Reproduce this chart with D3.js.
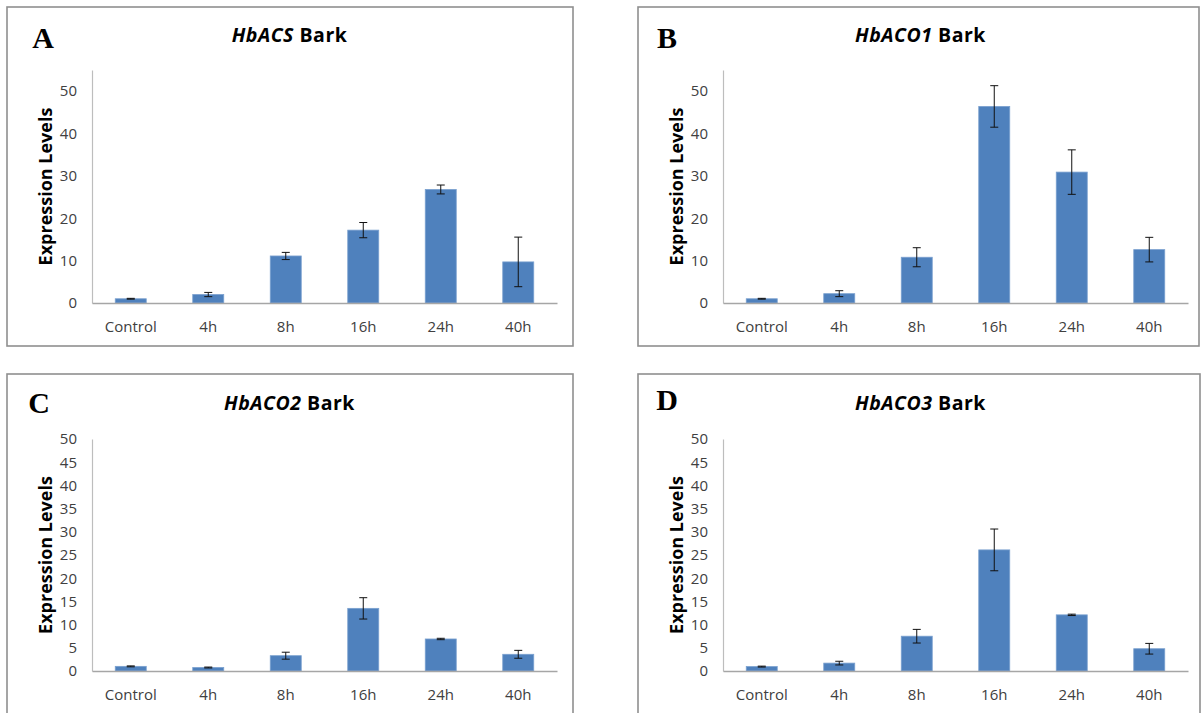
<!DOCTYPE html>
<html>
<head>
<meta charset="utf-8">
<script src="https://cdn.jsdelivr.net/npm/d3@7"></script>
<style>
  html, body { margin: 0; padding: 0; background: #fff; }
  svg { display: block; }
</style>
</head>
<body>
<svg id="chart" width="1202" height="713"></svg>
<script>
// ---- data ----
const categories = ["Control", "4h", "8h", "16h", "24h", "40h"];
const acsValues  = [1.0, 2.0, 11.1, 17.2, 26.8, 9.7];
const acsErrors  = [0.1, 0.5, 0.85, 1.8, 1.05, 5.85];
const aco1Values = [1.0, 2.2, 10.8, 46.4, 30.9, 12.6];
const aco1Errors = [0.1, 0.7, 2.25, 4.9, 5.25, 2.9];
const aco2Values = [1.0, 0.75, 3.3, 13.5, 6.9, 3.6];
const aco2Errors = [0.1, 0.1, 0.75, 2.3, 0.15, 0.85];
const aco3Values = [0.95, 1.7, 7.5, 26.1, 12.1, 4.8];
const aco3Errors = [0.1, 0.4, 1.47, 4.5, 0.15, 1.15];
const ticksTen  = [0, 10, 20, 30, 40, 50];
const ticksFive = [0, 5, 10, 15, 20, 25, 30, 35, 40, 45, 50];
const panelLetters = ["A", "B", "C", "D"];
const geneNames = ["HbACS", "HbACO1", "HbACO2", "HbACO3"];
const tissue = "Bark";
const yLabel = "Expression Levels";

// ---- layout ----
const panels = [
  { letter: panelLetters[0], gene: geneNames[0], values: acsValues,  errors: acsErrors,  ticks: ticksTen,  max: 55,
    box: [7, 7, 566, 339],   plot: { x0: 92,  x1: 557,  yTop: 70,  yBase: 303 }, lx: 43,  ly: 48,  ty: 42 },
  { letter: panelLetters[1], gene: geneNames[1], values: aco1Values, errors: aco1Errors, ticks: ticksTen,  max: 55,
    box: [638, 7, 561, 339], plot: { x0: 723, x1: 1188, yTop: 70,  yBase: 303 }, lx: 667, ly: 48,  ty: 42 },
  { letter: panelLetters[2], gene: geneNames[2], values: aco2Values, errors: aco2Errors, ticks: ticksFive, max: 50,
    box: [7, 374, 566, 345],   plot: { x0: 92,  x1: 557,  yTop: 439, yBase: 671 }, lx: 39,  ly: 413, ty: 410 },
  { letter: panelLetters[3], gene: geneNames[3], values: aco3Values, errors: aco3Errors, ticks: ticksFive, max: 50,
    box: [638, 374, 562, 345], plot: { x0: 723, x1: 1188, yTop: 439, yBase: 671 }, lx: 667, ly: 410, ty: 410 }
];

const svg = d3.select("#chart");
const FONT = "'Open Sans', 'DejaVu Sans', sans-serif";

panels.forEach(p => {
  const g = svg.append("g");
  const [bx, by, bw, bh] = p.box;
  g.append("rect").attr("x", bx).attr("y", by).attr("width", bw).attr("height", bh)
    .attr("fill", "#fff").attr("stroke", "#8f8f8f").attr("stroke-width", 1.6);

  const x = d3.scaleBand().domain(categories).range([p.plot.x0, p.plot.x1])
    .paddingInner(0.6).paddingOuter(0.3);
  const y = d3.scaleLinear().domain([0, p.max]).range([p.plot.yBase, p.plot.yTop]);

  // y axis
  const ya = g.append("g").attr("transform", `translate(${p.plot.x0},0)`)
    .call(d3.axisLeft(y).tickValues(p.ticks).tickSize(0).tickSizeOuter(0).tickPadding(15));
  ya.select(".domain").attr("stroke", "#bdbdbd").attr("stroke-width", 1.2);
  ya.selectAll("text").attr("font-family", FONT).attr("font-size", 15).attr("fill", "#404040");

  // bars
  const data = categories.map((c, i) => ({ c, v: p.values[i], e: p.errors[i] }));
  g.selectAll("rect.bar").data(data).enter().append("rect").attr("class", "bar")
    .attr("x", d => x(d.c)).attr("width", x.bandwidth())
    .attr("y", d => y(d.v)).attr("height", d => y(0) - y(d.v))
    .attr("fill", "#4f81bd").attr("stroke", "#7aa0cf").attr("stroke-width", 0.8);

  // x axis
  const xa = g.append("g").attr("transform", `translate(0,${p.plot.yBase})`)
    .call(d3.axisBottom(x).tickSize(0).tickSizeOuter(0).tickPadding(18));
  xa.select(".domain").attr("stroke", "#a6a6a6").attr("stroke-width", 1.4);
  xa.selectAll("text").attr("font-family", FONT).attr("font-size", 15).attr("fill", "#404040");

  // error bars
  const eb = g.selectAll("g.err").data(data).enter().append("g").attr("class", "err")
    .attr("stroke", "#111").attr("stroke-width", 1);
  const cx = d => x(d.c) + x.bandwidth() / 2;
  eb.append("line").attr("x1", cx).attr("x2", cx)
    .attr("y1", d => y(d.v + d.e)).attr("y2", d => y(Math.max(0, d.v - d.e)));
  eb.append("line").attr("x1", d => cx(d) - 4).attr("x2", d => cx(d) + 4)
    .attr("y1", d => y(d.v + d.e)).attr("y2", d => y(d.v + d.e));
  eb.append("line").attr("x1", d => cx(d) - 4).attr("x2", d => cx(d) + 4)
    .attr("y1", d => y(Math.max(0, d.v - d.e))).attr("y2", d => y(Math.max(0, d.v - d.e)));

  // y label
  const ylx = p.plot.x0 - 40;
  const ylc = (p.plot.yTop + p.plot.yBase) / 2 + (p.max === 55 ? 0 : 0);
  g.append("text").attr("transform", `translate(${ylx},${ylc}) rotate(-90)`)
    .attr("text-anchor", "middle").attr("font-family", FONT).attr("font-weight", 700)
    .attr("font-size", 18).attr("fill", "#000").text(yLabel);

  // title
  const tcx = (p.plot.x0 + p.plot.x1) / 2 - 35;
  const t = g.append("text").attr("x", tcx).attr("y", p.ty).attr("text-anchor", "middle")
    .attr("font-family", FONT).attr("font-weight", 700).attr("font-size", 19.5)
    .attr("letter-spacing", 0.5).attr("fill", "#000");
  t.append("tspan").attr("font-style", "italic").text(p.gene);
  t.append("tspan").text(" " + tissue);

  // panel letter
  g.append("text").attr("x", p.lx).attr("y", p.ly).attr("text-anchor", "middle")
    .attr("font-family", "'Liberation Serif', 'Times New Roman', serif").attr("font-weight", 700)
    .attr("font-size", 30).attr("fill", "#000").text(p.letter);
});
</script>
</body>
</html>
